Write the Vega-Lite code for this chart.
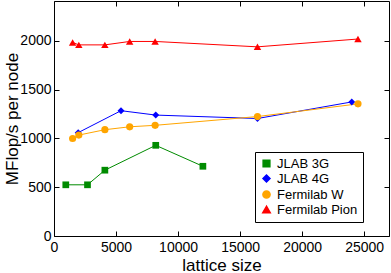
{
  "$schema": "https://vega.github.io/schema/vega-lite/v6.json",
  "width": 335,
  "height": 235,
  "autosize": "none",
  "padding": {"left": 54, "top": 1, "right": 2, "bottom": 37},
  "background": "white",
  "config": {
    "font": "Liberation Sans",
    "view": {"stroke": "black", "strokeWidth": 1},
    "axis": {"domain": false, "ticks": false, "gridColor": "black", "gridOpacity": 1, "gridWidth": 1, "labelColor": "black", "titleColor": "black", "labelFontSize": 14, "titleFontSize": 17, "titleFontWeight": "normal", "labelOverlap": false, "labelFlush": false, "format": "d"}
  },
  "data": {"values": [
    {"series": "JLAB 3G", "size": 950, "mflops": 525},
    {"series": "JLAB 3G", "size": 2700, "mflops": 525},
    {"series": "JLAB 3G", "size": 4100, "mflops": 675},
    {"series": "JLAB 3G", "size": 8200, "mflops": 930},
    {"series": "JLAB 3G", "size": 12000, "mflops": 715},
    {"series": "JLAB 4G", "size": 1950, "mflops": 1060},
    {"series": "JLAB 4G", "size": 5400, "mflops": 1285},
    {"series": "JLAB 4G", "size": 8200, "mflops": 1240},
    {"series": "JLAB 4G", "size": 16400, "mflops": 1205},
    {"series": "JLAB 4G", "size": 24000, "mflops": 1375},
    {"series": "Fermilab W", "size": 1500, "mflops": 1000},
    {"series": "Fermilab W", "size": 2000, "mflops": 1035},
    {"series": "Fermilab W", "size": 4100, "mflops": 1090},
    {"series": "Fermilab W", "size": 6100, "mflops": 1120},
    {"series": "Fermilab W", "size": 8150, "mflops": 1135},
    {"series": "Fermilab W", "size": 16400, "mflops": 1225},
    {"series": "Fermilab W", "size": 24500, "mflops": 1355},
    {"series": "Fermilab Pion", "size": 1500, "mflops": 1985},
    {"series": "Fermilab Pion", "size": 2000, "mflops": 1960},
    {"series": "Fermilab Pion", "size": 4100, "mflops": 1960},
    {"series": "Fermilab Pion", "size": 6100, "mflops": 1995},
    {"series": "Fermilab Pion", "size": 8150, "mflops": 1995},
    {"series": "Fermilab Pion", "size": 16400, "mflops": 1940},
    {"series": "Fermilab Pion", "size": 24500, "mflops": 2020}
  ]},
  "layer": [
    {
      "mark": {"type": "line", "strokeWidth": 1},
      "encoding": {
        "x": {"field": "size", "type": "quantitative", "scale": {"domain": [0, 27000], "nice": false, "zero": false},
          "axis": {"orient": "bottom", "title": "lattice size", "values": [0,2500,5000,7500,10000,12500,15000,17500,20000,22500,25000],
            "grid": true, "gridDash": [5, 225],
            "labelExpr": "datum.value % 5000 === 0 ? datum.label : ''", "labelPadding": 4, "titleBaseline": "alphabetic", "titleY": 34}},
        "y": {"field": "mflops", "type": "quantitative", "scale": {"domain": [0, 2410], "nice": false, "zero": false},
          "axis": {"orient": "left", "title": "MFlop/s per node", "values": [0,250,500,750,1000,1250,1500,1750,2000,2250],
            "grid": true, "gridDash": [5, 325],
            "labelExpr": "datum.value % 500 === 0 ? datum.label : ''", "labelPadding": 3, "titleX": -33}},
        "color": {"field": "series", "type": "nominal",
          "scale": {"domain": ["JLAB 3G", "JLAB 4G", "Fermilab W", "Fermilab Pion"], "range": ["#008b00", "#0000ff", "#ffa500", "#ff0000"]},
          "legend": {"title": null, "orient": "none", "legendX": 201, "legendY": 151, "fillColor": "white", "strokeColor": "black", "padding": 5,
            "labelFontSize": 13, "labelColor": "black", "symbolSize": 50, "symbolOpacity": 1, "rowPadding": 1}},
        "detail": {"field": "series"}
      }
    },
    {
      "mark": {"type": "point", "filled": true, "opacity": 1},
      "encoding": {
        "x": {"field": "size", "type": "quantitative"},
        "y": {"field": "mflops", "type": "quantitative"},
        "color": {"field": "series", "type": "nominal",
          "legend": {"title": null, "orient": "none", "legendX": 201, "legendY": 151, "fillColor": "white", "strokeColor": "black", "padding": 5,
            "labelFontSize": 13, "labelColor": "black", "symbolSize": 50, "symbolOpacity": 1, "rowPadding": 1}},
        "shape": {"field": "series", "type": "nominal", "legend": null,
          "scale": {"domain": ["JLAB 3G", "JLAB 4G", "Fermilab W", "Fermilab Pion"], "range": ["square", "diamond", "circle", "triangle-up"]}},
        "size": {"field": "series", "type": "nominal", "legend": null,
          "scale": {"domain": ["JLAB 3G", "JLAB 4G", "Fermilab W", "Fermilab Pion"], "range": [45, 55, 55, 60]}}
      }
    }
  ]
}
